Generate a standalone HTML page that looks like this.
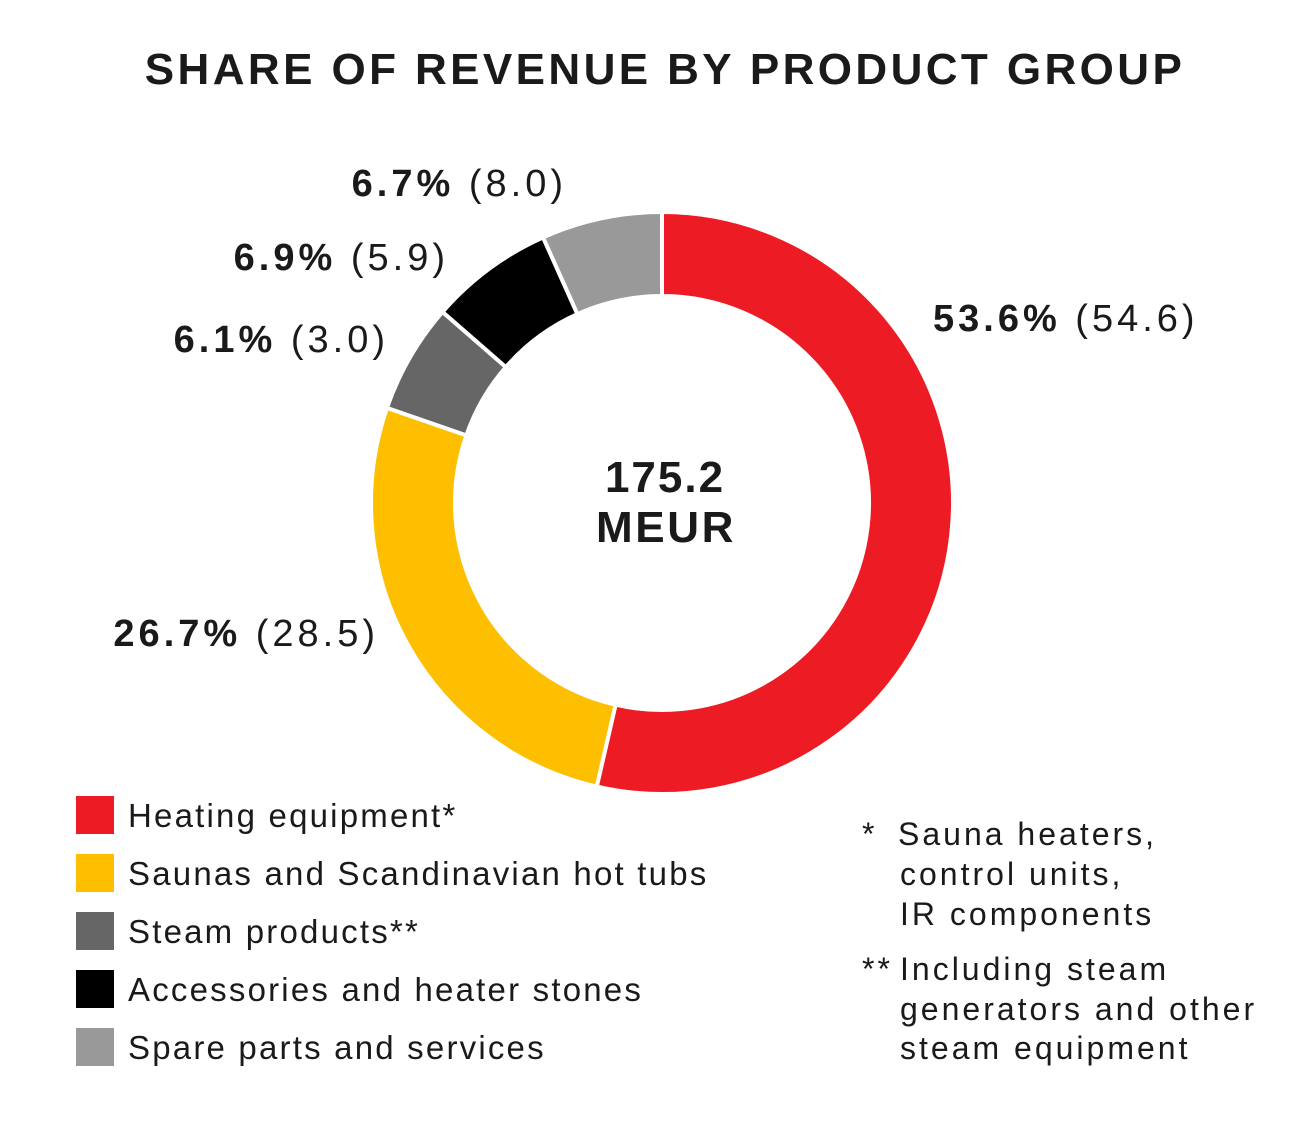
<!DOCTYPE html>
<html><head><meta charset="utf-8"><style>
body{margin:0;background:#fff;width:1303px;height:1130px;overflow:hidden;font-family:"Liberation Sans",sans-serif;color:#1a1a1a}
</style></head><body>
<svg width="1303" height="1130" xmlns="http://www.w3.org/2000/svg">
<text x="665" y="84" text-anchor="middle" font-size="44" font-weight="bold" letter-spacing="3.4" font-family="Liberation Sans" fill="#1a1a1a">SHARE OF REVENUE BY PRODUCT GROUP</text>
<g id="slices"></g>
<text x="665" y="492" text-anchor="middle" font-size="44" font-weight="bold" letter-spacing="2" font-family="Liberation Sans" fill="#1a1a1a">175.2</text>
<text x="666" y="542" text-anchor="middle" font-size="44" font-weight="bold" letter-spacing="2.6" font-family="Liberation Sans" fill="#1a1a1a">MEUR</text>
<g id="labels" font-family="Liberation Sans" font-size="38" letter-spacing="4" fill="#1a1a1a"></g>
<g id="legend" font-family="Liberation Sans" font-size="33" letter-spacing="2.2" fill="#1a1a1a"></g>
<g font-family="Liberation Sans" font-size="32" letter-spacing="3" fill="#1a1a1a">
<text x="862" y="845">*</text><text x="898" y="845">Sauna heaters,</text>
<text x="900" y="885">control units,</text><text x="900" y="925">IR components</text>
<text x="862" y="980">**</text><text x="900" y="980">Including steam</text>
<text x="900" y="1020">generators and other</text><text x="900" y="1059">steam equipment</text>
</g>
</svg>
<script>
const categories=["Heating equipment*","Saunas and Scandinavian hot tubs","Steam products**","Accessories and heater stones","Spare parts and services"];
const shares=[53.6,26.7,6.1,6.9,6.7];
const prevValues=["54.6","28.5","3.0","5.9","8.0"];
const colors=["#ed1c24","#fdbf00","#666666","#000000","#999999"];
const cx=662,cy=503,R=291,r=207;
const NS="http://www.w3.org/2000/svg";
const total=shares.reduce((a,b)=>a+b,0);
const slices=document.getElementById('slices');
const labels=document.getElementById('labels');
const legend=document.getElementById('legend');
function pt(a,rad){return [cx+rad*Math.sin(a),cy-rad*Math.cos(a)];}
const labelPos=[[933,331,'start'],[379,646,'end'],[389,352,'end'],[449,270,'end'],[567,196,'end']];
let acc=0;
shares.forEach((v,i)=>{
  const a0=acc/total*2*Math.PI; acc+=v; const a1=acc/total*2*Math.PI;
  const [x0,y0]=pt(a0,R),[x1,y1]=pt(a1,R),[x2,y2]=pt(a1,r),[x3,y3]=pt(a0,r);
  const lg=(a1-a0)>Math.PI?1:0;
  const p=document.createElementNS(NS,'path');
  p.setAttribute('d',`M${x0},${y0}A${R},${R} 0 ${lg} 1 ${x1},${y1}L${x2},${y2}A${r},${r} 0 ${lg} 0 ${x3},${y3}Z`);
  p.setAttribute('fill',colors[i]);p.setAttribute('stroke','#fff');p.setAttribute('stroke-width','4');
  
  
  slices.appendChild(p);
  const t=document.createElementNS(NS,'text');
  const lp=labelPos[i];
  t.setAttribute('x',lp[0]);t.setAttribute('y',lp[1]);t.setAttribute('text-anchor',lp[2]);
  t.innerHTML=`<tspan font-weight="bold">${v.toFixed(1)}%</tspan> (${prevValues[i]})`;
  
  
  labels.appendChild(t);
  const g=document.createElementNS(NS,'g');
  
  
  const y=796+i*58;
  g.innerHTML=`<rect x="76" y="${y}" width="38" height="38" fill="${colors[i]}"/><text x="128" y="${y+31}">${categories[i]}</text>`;
  legend.appendChild(g);
});
</script>
</body></html>
